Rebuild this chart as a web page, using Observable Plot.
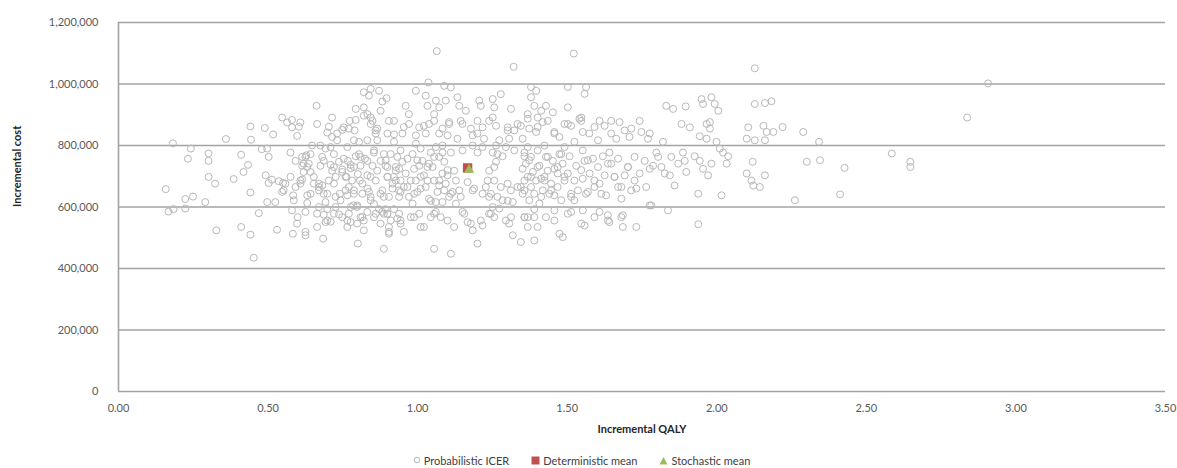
<!DOCTYPE html>
<html><head><meta charset="utf-8">
<script src="https://cdn.jsdelivr.net/npm/d3@7"></script>
<script src="https://cdn.jsdelivr.net/npm/@observablehq/plot@0.6"></script>
<style>
body{margin:0;background:#fff;font-family:Lato,"Open Sans",sans-serif;}
#legend{width:1177px;height:16px;display:flex;justify-content:center;align-items:center;gap:22px;font-size:11px;color:#404040;box-sizing:border-box;padding-right:14px;}
#legend span{display:inline-flex;align-items:center;gap:3px;white-space:nowrap;}
</style></head><body><div id="chart"></div><div id="legend"></div>
<script>
const xTicks = [0, 0.5, 1, 1.5, 2, 2.5, 3, 3.5];
const yTicks = [0, 200000, 400000, 600000, 800000, 1000000, 1200000];
const seriesNames = ["Probabilistic ICER", "Deterministic mean", "Stochastic mean"];
const seriesColors = ["#b8b8b8", "#c0504d", "#9bbb59"];
// [incremental QALY, incremental cost]
const icerPoints = [
[0.158,658000],[0.167,585000],[0.184,593000],[0.182,807000],[0.223,626000],[0.223,595000],[0.249,634000],[0.232,757000],[0.242,790000],[0.29,616000],[0.301,774000],[0.301,750000],[0.301,698000],[0.323,676000],[0.327,524000],[0.359,821000],[0.385,691000],[0.41,770000],[0.41,535000],[0.418,714000],[0.433,737000],[0.441,647000],[0.441,510000],[0.443,819000],[0.441,862000],[0.452,435000],[0.469,580000],[0.479,788000],[0.492,703000],[0.489,857000],[0.497,790000],[0.502,763000],[0.497,616000],[0.502,678000],[0.513,689000],[0.517,836000],[0.524,616000],[0.53,526000],[0.536,684000],[0.547,891000],[0.55,678000],[0.558,676000],[0.547,649000],[0.564,875000],[0.575,777000],[0.58,883000],[0.58,859000],[0.58,589000],[0.584,638000],[0.592,750000],[0.597,831000],[0.603,861000],[0.608,875000],[0.614,763000],[0.599,567000],[0.597,546000],[0.583,513000],[0.608,676000],[0.614,689000],[0.625,519000],[0.625,508000],[0.628,768000],[0.631,730000],[0.636,741000],[0.631,613000],[0.647,800000],[0.662,929000],[0.664,870000],[0.664,535000],[0.67,676000],[0.675,800000],[0.681,670000],[0.684,497000],[0.686,575000],[0.692,616000],[0.698,842000],[0.703,861000],[0.709,737000],[0.709,552000],[0.714,891000],[0.72,730000],[0.726,698000],[0.731,817000],[0.737,576000],[0.74,643000],[0.748,851000],[0.748,714000],[0.753,757000],[0.762,698000],[0.765,556000],[0.77,665000],[0.773,880000],[0.776,737000],[0.785,605000],[0.789,849000],[0.793,883000],[0.793,919000],[0.798,546000],[0.8,481000],[0.804,772000],[0.807,686000],[0.815,643000],[0.82,924000],[0.82,556000],[0.82,973000],[0.832,902000],[0.837,962000],[0.843,984000],[0.849,880000],[0.832,750000],[0.843,698000],[0.854,610000],[0.86,849000],[0.865,817000],[0.871,978000],[0.882,943000],[0.887,464000],[0.893,593000],[0.896,954000],[0.904,880000],[0.904,519000],[0.921,836000],[0.876,643000],
[0.737,747000],[0.748,722000],[0.759,698000],[0.767,750000],[0.776,726000],[0.781,686000],[0.787,654000],[0.793,765000],[0.8,707000],[0.809,734000],[0.815,676000],[0.824,757000],[0.832,703000],[0.837,649000],[0.843,633000],[0.849,734000],[0.854,777000],[0.86,686000],[0.865,718000],[0.871,593000],[0.876,750000],[0.882,654000],[0.887,578000],[0.893,734000],[0.899,698000],[0.904,633000],[0.904,535000],[0.91,772000],[0.916,676000],[0.921,593000],[0.927,718000],[0.932,562000],[0.938,654000],[0.765,638000],[0.776,600000],[0.798,605000],[0.815,567000],[0.832,584000],[0.854,567000],[0.882,584000],[0.899,578000],[0.904,513000],[0.82,524000],[0.776,551000],[0.748,567000],[0.72,578000],[0.698,593000],[0.686,643000],[0.675,734000],[0.642,772000],[0.625,763000],[0.614,734000],[0.692,790000],[0.714,828000],[0.731,839000],[0.787,817000],[0.804,812000],[0.832,817000],[0.86,839000],[0.899,839000],[0.921,812000],[0.843,870000],[0.865,855000],[0.876,913000],[0.843,891000],[0.82,897000],[0.77,855000],[0.753,859000],
[0.619,714000],[0.653,698000],[0.67,665000],[0.698,643000],[0.72,676000],[0.726,600000],[0.742,622000],[0.759,654000],[0.77,578000],[0.787,643000],[0.798,600000],[0.809,567000],[0.832,660000],[0.843,622000],[0.86,578000],[0.876,546000],[0.887,633000],[0.91,556000],[0.921,698000],[0.899,730000],[0.787,730000],[0.809,763000],[0.72,772000],[0.681,763000],[0.709,795000],[0.765,795000],[0.854,784000],[0.887,772000],[0.642,643000],[0.625,584000],[0.67,600000],[0.698,556000],[0.765,535000],
[0.575,698000],[0.592,665000],[0.608,686000],[0.631,638000],[0.653,676000],[0.67,654000],[0.703,686000],[0.714,718000],[0.726,633000],[0.642,714000],[0.686,750000],[0.619,741000],[0.664,578000],[0.692,551000],[0.586,622000],[0.552,654000],
[1.064,1107000],[1.522,1099000],[1.321,1056000],[1.036,1005000],[1.089,994000],[1.111,989000],
[0.96,929000],[0.971,902000],[0.994,978000],[1.027,962000],[1.033,929000],[1.055,902000],[1.061,946000],[1.072,924000],[1.094,946000],[1.133,957000],[1.139,929000],[1.161,913000],[1.206,946000],[1.211,929000],[1.251,951000],[1.256,924000],[1.278,967000],[1.312,919000],[0.971,870000],[1.005,859000],[1.038,870000],[1.105,876000],[1.15,870000],[1.2,880000],[1.217,859000],[1.251,891000],[1.262,864000],[1.301,859000],[1.323,849000],[1.345,864000],[0.949,839000],[0.994,833000],[1.027,839000],[1.072,839000],[1.1,833000],[1.133,822000],[1.184,833000],[1.222,822000],[1.273,817000],[1.306,822000],[1.351,822000],
[0.921,880000],[0.954,860000],[1.021,864000],[1.055,880000],[1.083,855000],[1.105,870000],[1.144,880000],[1.178,855000],[1.2,839000],[1.239,880000],[1.301,849000],[1.334,870000],[1.368,887000],[1.401,860000],[1.435,880000],[1.457,844000],[1.502,870000],[1.547,880000],[1.591,860000],[1.647,880000],[1.692,849000],
[0.943,784000],[0.949,747000],[0.96,709000],[0.954,665000],[0.971,633000],[0.983,772000],[0.988,724000],[0.994,686000],[0.999,649000],[1.01,790000],[1.016,750000],[1.021,703000],[1.027,665000],[1.038,627000],[1.044,777000],[1.05,730000],[1.055,686000],[1.066,649000],[1.072,763000],[1.083,709000],[1.089,747000],[1.094,676000],[1.105,633000],[1.111,777000],[1.122,718000],[1.128,686000],[1.139,654000],[1.15,784000],[1.167,681000],[1.184,654000],[1.2,777000],[1.217,643000],[1.228,665000],[1.239,718000],[1.251,777000],[1.256,686000],[1.262,747000],[1.267,633000],[1.284,765000],[1.301,676000],[1.312,654000],[1.323,784000],[1.351,643000],[1.357,765000],
[0.893,752000],[0.927,730000],[0.899,698000],[0.943,686000],[0.916,660000],[0.966,665000],[0.938,633000],[0.988,643000],[1.01,698000],[1.033,730000],[1.055,763000],[0.999,752000],[1.072,686000],[1.089,654000],[1.044,620000],[1.1,720000],[1.083,777000],[1.111,643000],[1.144,633000],[1.189,660000],[1.234,686000],[1.256,730000],[1.267,772000],[1.245,643000],[1.278,665000],[1.301,620000],[1.345,665000],[1.379,698000],[1.401,730000],[1.373,752000],[1.424,686000],[1.446,654000],[1.413,633000],[1.468,730000],[1.491,698000],[1.48,772000],[1.435,763000],[1.513,643000],[1.547,720000],[1.569,752000],[1.591,686000],[1.614,643000],[1.636,741000],[1.658,698000],[1.681,665000],[1.703,730000],[1.725,763000],[1.714,654000],
[0.932,763000],[0.938,724000],[0.927,686000],[0.943,649000],[0.977,686000],[0.966,757000],[0.983,611000],[1.005,734000],[1.01,660000],[1.033,686000],[1.038,741000],[1.061,616000],[1.072,670000],[1.083,616000],[1.1,703000],[1.117,649000],[1.128,611000],[1.061,795000],[1.083,800000],[0.994,806000],[1.239,633000],[1.251,600000],[1.284,622000],[1.318,616000],[1.334,665000],[1.357,686000],[1.262,800000],[1.295,795000],[1.217,795000],[1.184,800000],
[1.351,724000],[1.357,654000],[1.373,622000],[1.396,686000],[1.407,611000],[1.424,698000],[1.44,643000],[1.457,724000],[1.468,665000],[1.48,622000],[1.502,709000],[1.508,765000],[1.53,734000],[1.536,654000],[1.575,709000],[1.591,665000],[1.625,703000],[1.619,765000],[1.692,703000],[1.67,757000],[1.368,795000],[1.424,800000],[1.491,795000],[1.524,622000],[1.39,593000],[1.457,589000],[1.513,584000],
[0.938,578000],[0.943,546000],[0.954,519000],[0.977,567000],[1.005,578000],[1.01,535000],[1.044,567000],[1.061,584000],[1.077,567000],[1.122,535000],[1.055,464000],[1.111,448000],[1.167,551000],[1.178,546000],[1.184,524000],[1.2,481000],[1.217,540000],[1.239,578000],[1.256,567000],[1.273,595000],[1.295,556000],[1.312,567000],[1.318,508000],[1.345,486000],[1.357,567000],[1.15,584000],
[0.899,578000],[0.943,556000],[0.988,567000],[1.021,535000],[1.055,578000],[1.1,556000],[1.156,578000],[1.211,556000],[1.245,578000],[1.306,546000],[1.368,567000],[1.401,535000],[1.457,556000],[1.502,578000],[1.547,546000],[1.591,567000],[1.636,556000],[1.681,567000],
[1.379,990000],[1.396,978000],[1.502,990000],[1.558,968000],[1.563,990000],[1.379,957000],
[1.39,929000],[1.368,902000],[1.413,913000],[1.429,929000],[1.401,891000],[1.418,876000],[1.452,908000],[1.502,924000],[1.491,870000],[1.513,864000],[1.541,887000],[1.547,891000],[1.373,855000],[1.396,844000],[1.457,839000],[1.474,828000],[1.524,812000],[1.552,844000],[1.574,839000],[1.608,880000],[1.625,864000],[1.675,876000],[1.647,839000],[1.664,822000],[1.714,855000],[1.742,880000],[1.748,844000],[1.708,828000],[1.77,822000],[1.603,817000],
[1.357,777000],[1.362,741000],[1.368,698000],[1.379,763000],[1.385,714000],[1.379,665000],[1.39,643000],[1.401,784000],[1.407,734000],[1.413,692000],[1.418,654000],[1.429,763000],[1.435,718000],[1.446,676000],[1.452,750000],[1.457,638000],[1.468,709000],[1.474,772000],[1.485,741000],[1.491,686000],[1.513,633000],[1.524,686000],[1.552,784000],[1.558,750000],[1.552,692000],[1.563,643000],[1.586,757000],[1.603,730000],[1.608,676000],[1.63,638000],[1.641,777000],[1.647,741000],[1.658,698000],[1.67,665000],[1.681,627000],[1.703,730000],[1.725,686000],[1.731,660000],[1.742,709000],[1.759,750000],[1.764,665000],[1.569,649000],
[1.357,567000],[1.39,567000],[1.429,567000],[1.368,535000],[1.552,589000],[1.558,540000],[1.474,513000],[1.485,502000],[1.39,491000],[1.608,584000],[1.636,573000],[1.641,551000],[1.686,573000],[1.686,535000],[1.731,535000],[1.776,605000],
[1.831,929000],[1.854,919000],[1.896,927000],[1.949,951000],[1.982,957000],[1.993,935000],[2.005,913000],[1.954,935000],[2.127,935000],[2.161,938000],[2.183,944000],[1.882,870000],[1.91,859000],[1.966,870000],[1.977,876000],[1.977,855000],[1.776,839000],[1.82,812000],[1.943,830000],[1.966,822000],[1.999,812000],[2.105,859000],[2.156,864000],[2.167,844000],[2.189,844000],[2.1,822000],[2.127,817000],[2.161,817000],
[1.798,777000],[1.804,763000],[1.787,734000],[1.776,724000],[1.815,730000],[1.826,709000],[1.843,703000],[1.848,763000],[1.871,741000],[1.887,777000],[1.893,750000],[1.898,714000],[1.859,670000],[1.926,765000],[1.943,750000],[1.954,724000],[1.971,703000],[1.982,741000],[2.01,790000],[2.021,777000],[2.038,765000],[2.033,741000],[1.938,643000],[2.016,638000],[2.1,709000],[2.116,686000],[2.122,670000],[2.144,665000],[2.161,703000],[2.12,747000],
[1.781,605000],[1.837,589000],[1.938,544000],
[2.127,1051000],[2.22,860000],[2.289,844000],[2.342,812000],[2.301,747000],[2.345,752000],[2.427,727000],[2.261,622000],[2.412,641000],[2.907,1002000],[2.837,891000],[2.585,774000],[2.647,747000],[2.647,730000]
];
const deterministicMean = [[1.167, 727000]];
const stochasticMean = [[1.172, 721000]];

const grey = "#a3a3a3";
const chart = Plot.plot({
  width: 1177, height: 452,
  marginTop: 22, marginBottom: 61, marginLeft: 118, marginRight: 12,
  style: {fontFamily: "Lato, 'Open Sans', sans-serif", fontSize: "11px", color: "#595959", background: "#fff"},
  x: {domain: [0, 3.5]},
  y: {domain: [0, 1200000]},
  marks: [
    Plot.gridY(yTicks, {stroke: grey, strokeOpacity: 1, strokeWidth: 1.6}),
    Plot.ruleX([0], {stroke: grey, strokeWidth: 1.6}),
    Plot.axisX(xTicks, {tickSize: 0, tickPadding: 13, tickFormat: d3.format(".2f"), label: null, fill: "#595959"}),
    Plot.axisY(yTicks, {tickSize: 0, tickPadding: 20, tickFormat: d3.format(","), label: null, fill: "#595959"}),
    Plot.dot(icerPoints, {x: d => d[0], y: d => d[1], r: 3.5, stroke: seriesColors[0], strokeWidth: 1, fill: "none"}),
    Plot.dot(deterministicMean, {x: d => d[0], y: d => d[1], symbol: "square", r: 5.3, fill: seriesColors[1]}),
    Plot.dot(stochasticMean, {x: d => d[0], y: d => d[1], symbol: "triangle", r: 3.8, fill: seriesColors[2]}),
    Plot.text(["Incremental QALY"], {frameAnchor: "bottom", dy: 41, fontWeight: "bold", fill: "#262626", fontSize: 11}),
    Plot.text(["Incremental cost"], {frameAnchor: "left", dx: -101, rotate: -90, fontWeight: "bold", fill: "#262626", fontSize: 11})
  ]
});
document.getElementById("chart").appendChild(chart);

const symbols = [
  '<svg width="8" height="8"><circle cx="4" cy="4" r="2.8" fill="none" stroke="' + seriesColors[0] + '"/></svg>',
  '<svg width="9" height="9"><rect x="0.5" y="0.5" width="8" height="8" fill="' + seriesColors[1] + '"/></svg>',
  '<svg width="9" height="9"><path d="M4.5,1 L8.5,8.5 L0.5,8.5 Z" fill="' + seriesColors[2] + '"/></svg>'
];
document.getElementById("legend").innerHTML = seriesNames.map((n, i) => '<span>' + symbols[i] + n + '</span>').join("");
</script></body></html>
